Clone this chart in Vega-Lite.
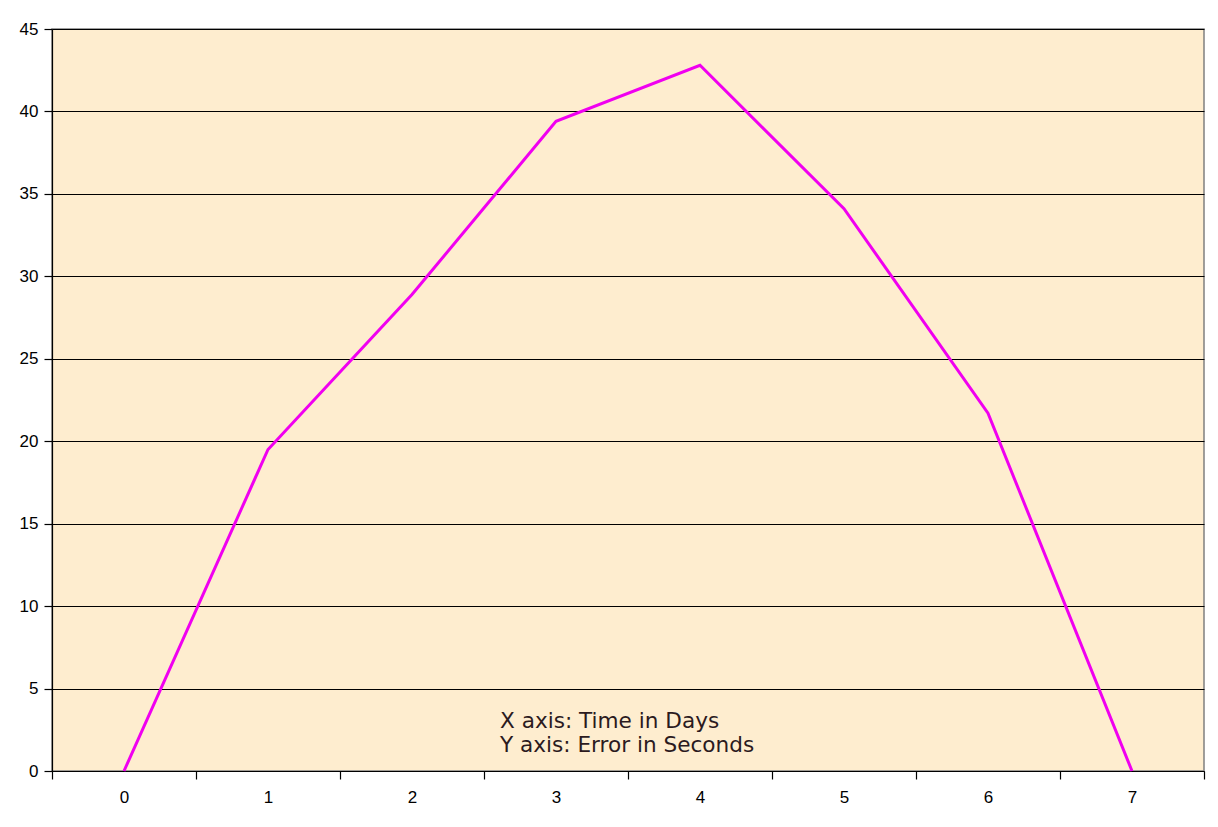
{
  "$schema": "https://vega.github.io/schema/vega-lite/v6.json",
  "width": 1152,
  "height": 742,
  "autosize": {"type": "none"},
  "padding": {"left": 52, "top": 29, "right": 14, "bottom": 56},
  "background": "white",
  "datasets": {
    "error": [
      {"day": "0", "error": 0},
      {"day": "1", "error": 19.5},
      {"day": "2", "error": 28.9},
      {"day": "3", "error": 39.4},
      {"day": "4", "error": 42.8},
      {"day": "5", "error": 34.1},
      {"day": "6", "error": 21.7},
      {"day": "7", "error": 0}
    ],
    "notes": [
      {"day": "3", "y": 3.0, "label": "X axis: Time in Days"},
      {"day": "3", "y": 1.5, "label": "Y axis: Error in Seconds"}
    ]
  },
  "encoding": {
    "x": {
      "field": "day",
      "type": "ordinal",
      "sort": ["0", "1", "2", "3", "4", "5", "6", "7"],
      "scale": {
        "type": "band",
        "domain": ["0", "1", "2", "3", "4", "5", "6", "7"],
        "paddingInner": 0,
        "paddingOuter": 0
      },
      "axis": {
        "title": null,
        "labelAngle": 0,
        "tickBand": "extent",
        "tickSize": 8,
        "labelPadding": 10,
        "grid": false
      }
    }
  },
  "layer": [
    {
      "data": {"name": "error"},
      "mark": {"type": "line", "color": "#f000f0", "strokeWidth": 3},
      "encoding": {
        "x": {"field": "day", "type": "ordinal", "bandPosition": 0.5},
        "y": {
          "field": "error",
          "type": "quantitative",
          "scale": {"domain": [0, 45], "nice": false},
          "axis": {
            "title": null,
            "values": [0, 5, 10, 15, 20, 25, 30, 35, 40, 45],
            "tickSize": 8,
            "labelPadding": 6,
            "grid": true
          }
        }
      }
    },
    {
      "data": {"name": "notes"},
      "mark": {
        "type": "text",
        "align": "left",
        "baseline": "middle",
        "dx": 16,
        "font": "DejaVu Sans",
        "fontSize": 21.6,
        "color": "#2b1a1e"
      },
      "encoding": {
        "x": {"field": "day", "type": "ordinal", "bandPosition": 0},
        "y": {"field": "y", "type": "quantitative"},
        "text": {"field": "label", "type": "nominal"}
      }
    }
  ],
  "config": {
    "view": {"fill": "#feedcf", "stroke": "#808080", "strokeWidth": 1.5},
    "axis": {
      "labelFont": "Liberation Sans",
      "labelFontSize": 17,
      "labelColor": "black",
      "domainColor": "black",
      "domainWidth": 1.2,
      "tickColor": "black",
      "tickWidth": 1.2,
      "gridColor": "black",
      "gridWidth": 1,
      "gridOpacity": 1
    }
  }
}
